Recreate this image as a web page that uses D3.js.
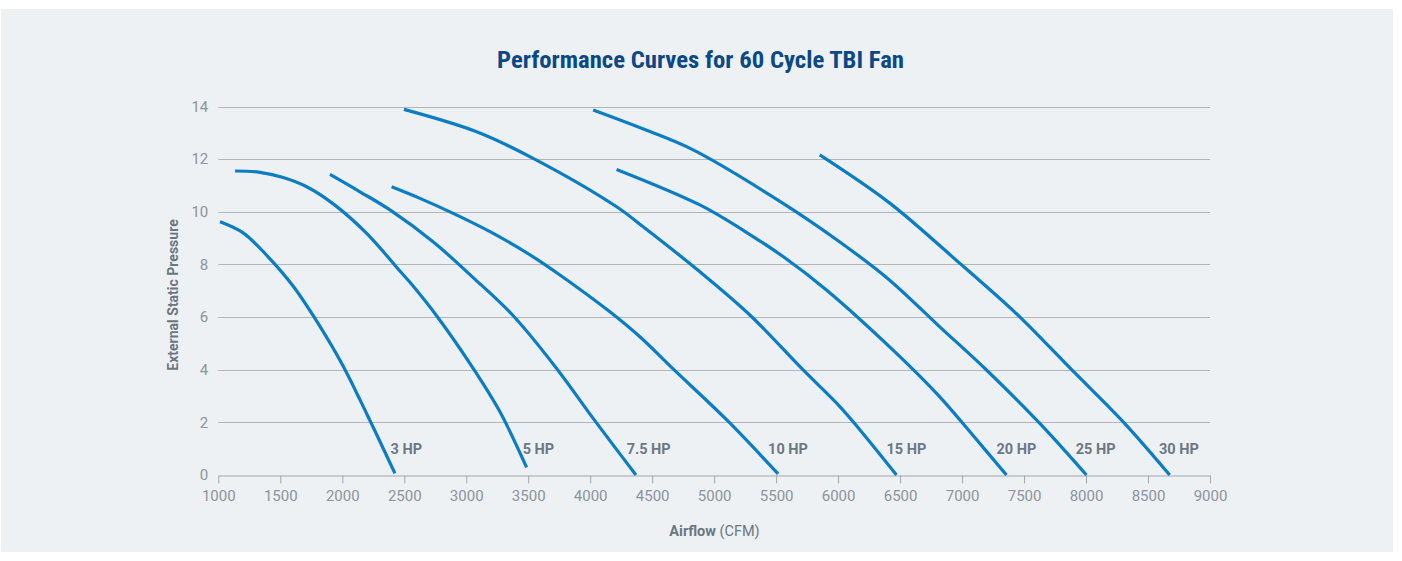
<!DOCTYPE html>
<html>
<head>
<meta charset="utf-8">
<script src="https://cdn.jsdelivr.net/npm/d3@7"></script>
<style>
  body { margin: 0; background: #fff; }
  svg { display: block; font-family: Roboto, "Noto Sans", sans-serif; }
</style>
</head>
<body>
<svg id="chart" width="1402" height="561"></svg>
<script>
// airflow (CFM), static pressure pairs
var hp3 = [[1014, 9.62], [1200, 9.2], [1400, 8.3], [1600, 7.2], [1800, 5.8], [2000, 4.2], [2200, 2.3], [2425, 0.06]];
var hp5 = [[1135, 11.55], [1336, 11.5], [1524, 11.3], [1713, 10.95], [1927, 10.3], [2197, 9.18], [2465, 7.75], [2546, 7.32], [2761, 6.05], [3056, 4.05], [3272, 2.4], [3487, 0.29]];
var hp7_5 = [[1901, 11.42], [2143, 10.76], [2385, 10.07], [2735, 8.85], [3056, 7.5], [3379, 6.05], [3729, 4.05], [4024, 2.15], [4369, 0]];
var hp10 = [[2398, 10.95], [2627, 10.51], [2895, 9.94], [3218, 9.18], [3540, 8.29], [3756, 7.6], [4159, 6.2], [4401, 5.25], [4669, 4.03], [5100, 2.1], [5516, 0.04]];
var hp15 = [[2498, 13.89], [3084, 13.04], [3540, 12.03], [4213, 10.19], [4427, 9.43], [4885, 7.72], [5288, 6.08], [5718, 3.99], [6014, 2.6], [6175, 1.72], [6471, 0]];
var hp20 = [[4213, 11.61], [4885, 10.26], [5250, 9.25], [5556, 8.3], [5906, 7.03], [6471, 4.62], [6820, 2.97], [7089, 1.5], [7358, 0]];
var hp25 = [[4024, 13.87], [4455, 13.1], [4831, 12.35], [5556, 10.32], [6000, 8.9], [6404, 7.45], [6820, 5.63], [7197, 3.99], [7627, 1.96], [8003, 0]];
var hp30 = [[5852, 12.16], [6419, 10.32], [6982, 8.04], [7143, 7.38], [7465, 6.01], [7880, 4.02], [8298, 2.03], [8675, 0]];

var curveNames = ["3 HP", "5 HP", "7.5 HP", "10 HP", "15 HP", "20 HP", "25 HP", "30 HP"];
var curveValues = [hp3, hp5, hp7_5, hp10, hp15, hp20, hp25, hp30];
// airflow where each HP label starts, at 1 in. pressure
var labelAirflow = [2390, 3455, 4294, 5435, 6390, 7277, 7917, 8589];

var airflowTicks = [1000, 1500, 2000, 2500, 3000, 3500, 4000, 4500, 5000, 5500, 6000, 6500, 7000, 7500, 8000, 8500, 9000];
var pressureTicks = [0, 2, 4, 6, 8, 10, 12, 14];

var svg = d3.select("#chart");

svg.append("rect")
  .attr("x", 1).attr("y", 9)
  .attr("width", 1392).attr("height", 543)
  .attr("fill", "#edf1f4");

var x = d3.scaleLinear().domain([1000, 9000]).range([218.3, 1210]);
var y = d3.scaleLinear().domain([0, 14]).range([475, 106.5]);

svg.append("text")
  .attr("x", 700.5).attr("y", 68)
  .attr("text-anchor", "middle")
  .attr("textLength", 407)
  .attr("lengthAdjust", "spacingAndGlyphs")
  .style("font-family", "'Liberation Sans Narrow', 'Roboto Condensed', Roboto, sans-serif")
  .style("font-weight", "bold")
  .style("font-size", "23px")
  .attr("fill", "#0b4885")
  .text("Performance Curves for 60 Cycle TBI Fan");

// horizontal grid
svg.append("g")
  .selectAll("line")
  .data(pressureTicks.filter(d => d > 0))
  .enter().append("line")
    .attr("x1", x(1000)).attr("x2", x(9000))
    .attr("y1", d => Math.round(y(d)) + 0.5)
    .attr("y2", d => Math.round(y(d)) + 0.5)
    .attr("stroke", "#b3b5b8")
    .attr("stroke-width", 1);

var xAxis = svg.append("g")
  .attr("transform", "translate(0," + 475.5 + ")")
  .call(d3.axisBottom(x).tickValues(airflowTicks).tickFormat(d3.format("d")).tickSize(8).tickSizeOuter(0).tickPadding(7));
xAxis.select(".domain").attr("stroke", "#a3a6a9");
xAxis.selectAll(".tick line").attr("stroke", "#a3a6a9");
xAxis.selectAll("text")
  .attr("fill", "#8c949c")
  .style("font-size", "15px")
  .style("font-family", "Roboto, sans-serif");

var yAxis = svg.append("g")
  .attr("transform", "translate(" + 218.3 + ",0)")
  .call(d3.axisLeft(y).tickValues(pressureTicks).tickSize(0).tickPadding(10));
yAxis.select(".domain").remove();
yAxis.selectAll("text")
  .attr("fill", "#8c949c")
  .style("font-size", "15px")
  .style("font-family", "Roboto, sans-serif");

var line = d3.line()
  .x(d => x(d[0]))
  .y(d => y(d[1]))
  .curve(d3.curveCatmullRom.alpha(0.5));

svg.append("g")
  .selectAll("path")
  .data(curveValues)
  .enter().append("path")
    .attr("d", line)
    .attr("fill", "none")
    .attr("stroke", "#0a7dc3")
    .attr("stroke-width", 3.2);

svg.append("g")
  .selectAll("text")
  .data(curveNames)
  .enter().append("text")
    .attr("x", (d, i) => x(labelAirflow[i]))
    .attr("y", y(1))
    .attr("dy", "0.36em")
    .attr("fill", "#6c7884")
    .style("font-size", "14.5px")
    .style("font-weight", "bold")
    .text(d => d);

svg.append("text")
  .attr("transform", "translate(178,295) rotate(-90)")
  .attr("text-anchor", "middle")
  .attr("fill", "#6c7681")
  .style("font-size", "14px")
  .style("font-weight", "bold")
  .text("External Static Pressure");

var xt = svg.append("text")
  .attr("x", 714.5).attr("y", 536)
  .attr("text-anchor", "middle")
  .attr("fill", "#6c7681")
  .style("font-size", "14.5px");
xt.append("tspan").style("font-weight", "bold").text("Airflow");
xt.append("tspan").text(" (CFM)");
</script>
</body>
</html>
